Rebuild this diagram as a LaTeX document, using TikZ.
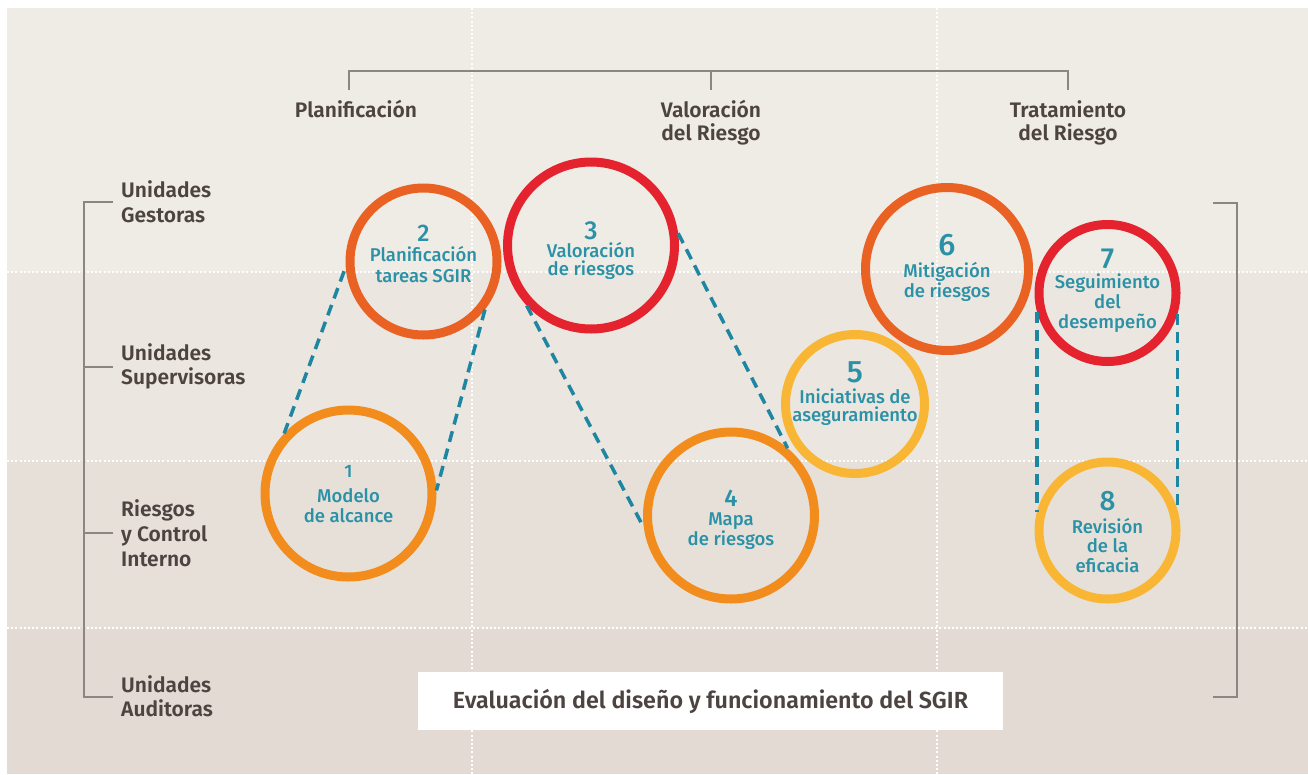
\documentclass[tikz,border=0pt]{standalone}
\usepackage{fontspec}
\setmainfont{Fira Sans}
\newfontfamily\firamed{Fira Sans Medium}
\newfontfamily\firasemi{Fira Sans SemiBold}
\definecolor{bgA}{HTML}{EFEBE5}
\definecolor{bgB}{HTML}{EBE6E0}
\definecolor{bgC}{HTML}{E7E0D9}
\definecolor{bgD}{HTML}{E2DAD3}
\definecolor{labc}{HTML}{4D4441}
\definecolor{brkc}{HTML}{8C8582}
\definecolor{tealtxt}{HTML}{2A91A6}
\definecolor{dashc}{HTML}{1E86A0}
\definecolor{orA}{HTML}{F28C1C}
\definecolor{orB}{HTML}{EA6223}
\definecolor{redA}{HTML}{E4232F}
\definecolor{yelA}{HTML}{F8B634}
\begin{document}
\begin{tikzpicture}[x=1pt,y=-1pt,
  circ/.style={circle, draw, line width=9pt, inner sep=0pt},
  num/.style={anchor=base, text=tealtxt, inner sep=0pt},
  ctxt/.style={anchor=base, text=tealtxt, inner sep=0pt, font=\firamed\fontsize{18.5}{20}\selectfont},
  lab/.style={anchor=base, text=labc, inner sep=0pt, font=\firasemi\fontsize{21}{22}\selectfont},
  leftlab/.style={lab, anchor=base west},
  dashline/.style={draw=dashc, line width=3.5pt, dash pattern=on 11pt off 7pt},
  wdot/.style={draw=white, line width=1.6pt, dash pattern=on 2pt off 2.2pt},
  brk/.style={draw=brkc, line width=2pt}]
\useasboundingbox (0,0) rectangle (1308,774);
\fill[white] (0,0) rectangle (1308,774);
\fill[bgA] (7,8) rectangle (1308,272);
\fill[bgB] (7,272) rectangle (1308,461);
\fill[bgC] (7,461) rectangle (1308,628);
\fill[bgD] (7,628) rectangle (1308,774);
% white dotted grid
\draw[wdot] (7,272) -- (1308,272);
\draw[wdot] (7,461) -- (1308,461);
\draw[wdot] (7,628) -- (1308,628);
\draw[wdot] (472,8) -- (472,774);
\draw[wdot] (937,8) -- (937,774);
% top bracket
\draw[brk] (349,90) -- (349,71) -- (1068,71) -- (1068,90);
\draw[brk] (711,71) -- (711,90);
% left bracket
\draw[brk] (113,202) -- (84,202) -- (84,697) -- (113,697);
\draw[brk] (84,367) -- (113,367);
\draw[brk] (84,533) -- (113,533);
% right bracket
\draw[brk] (1213,203) -- (1237,203) -- (1237,697) -- (1213,697);
% top labels
\node[lab] (tp1) at (356,117) {Planificación};
\node[lab] (tv1) at (711,117) {Valoración};
\node[lab] (tv2) at (711,140) {del Riesgo};
\node[lab] (tt1) at (1068,117) {Tratamiento};
\node[lab] (tt2) at (1068,140) {del Riesgo};
% left labels
\node[leftlab] (lg1) at (121,197) {Unidades};
\node[leftlab] (lg2) at (121,222) {Gestoras};
\node[leftlab] (ls1) at (121,360) {Unidades};
\node[leftlab] (ls2) at (121,384) {Supervisoras};
\node[leftlab] (lr1) at (121,516) {Riesgos};
\node[leftlab] (lr2) at (121,541) {y Control};
\node[leftlab] (lr3) at (121,566) {Interno};
\node[leftlab] (la1) at (121,692) {Unidades};
\node[leftlab] (la2) at (121,716) {Auditoras};
% evaluation box
\node[fill=white, minimum width=585pt, minimum height=58pt, inner sep=0pt,
      text=labc, font=\firasemi\fontsize{23.3}{25}\selectfont] (ev) at (710.5,701)
      {Evaluación del diseño y funcionamiento del SGIR};
% circles
\node[circ, draw=orA,  minimum size=167pt] (c1) at (348.5,493.5) {};
\node[circ, draw=orB,  minimum size=147pt] (c2) at (423.5,261.5) {};
\node[circ, draw=redA, minimum size=167pt] (c3) at (591,245.5) {};
\node[circ, draw=orA,  minimum size=167pt] (c4) at (731,515.5) {};
\node[circ, draw=yelA, minimum size=139pt] (c5) at (855,404) {};
\node[circ, draw=orB,  minimum size=163pt] (c6) at (947,269) {};
\node[circ, draw=redA, minimum size=137pt] (c7) at (1107.5,293) {};
\node[circ, draw=yelA, minimum size=137pt] (c8) at (1107.5,530.5) {};
% dashed connectors
\draw[dashline] (c1.137) -- (c2.184);
\draw[dashline] (c2.-38) -- (c1.2);
\draw[dashline] (c3.223) -- (c4.188);
\draw[dashline] (c3.8) -- (c4.50);
\draw[dashline] (c7.195) -- (c8.165);
\draw[dashline] (c7.-17) -- (c8.17);
% circle texts
\node[num, font=\firamed\fontsize{18}{20}\selectfont] (c1n) at (348.5,477) {1};
\node[ctxt] (c1a) at (348.5,502) {Modelo};
\node[ctxt] (c1b) at (348.5,522) {de alcance};
\node[num, font=\firamed\fontsize{24}{26}\selectfont] (c2n) at (423.5,241) {2};
\node[ctxt] (c2a) at (423.5,261) {Planificación};
\node[ctxt] (c2b) at (423.5,282) {tareas SGIR};
\node[num, font=\firamed\fontsize{26}{28}\selectfont] (c3n) at (591,239) {3};
\node[ctxt] (c3a) at (591,257) {Valoración};
\node[ctxt] (c3b) at (591,275) {de riesgos};
\node[num, font=\firamed\fontsize{24}{26}\selectfont] (c4n) at (731,506) {4};
\node[ctxt] (c4a) at (731,525) {Mapa};
\node[ctxt] (c4b) at (731,545) {de riesgos};
\node[num, font=\firamed\fontsize{31}{33}\selectfont] (c5n) at (855,382) {5};
\node[ctxt] (c5a) at (855,403) {Iniciativas de};
\node[ctxt] (c5b) at (855,421) {aseguramiento};
\node[num, font=\firamed\fontsize{31}{33}\selectfont] (c6n) at (947,255) {6};
\node[ctxt] (c6a) at (947,277) {Mitigación};
\node[ctxt] (c6b) at (947,297) {de riesgos};
\node[num, font=\firamed\fontsize{29}{33}\selectfont] (c7n) at (1107.5,268) {7};
\node[ctxt] (c7a) at (1107.5,288) {Seguimiento};
\node[ctxt] (c7b) at (1107.5,308) {del};
\node[ctxt] (c7c) at (1107.5,328) {desempeño};
\node[num, font=\firamed\fontsize{28}{30}\selectfont] (c8n) at (1107.5,510) {8};
\node[ctxt] (c8a) at (1107.5,533) {Revisión};
\node[ctxt] (c8b) at (1107.5,552) {de la};
\node[ctxt] (c8c) at (1107.5,572) {eficacia};
\end{tikzpicture}
\end{document}
